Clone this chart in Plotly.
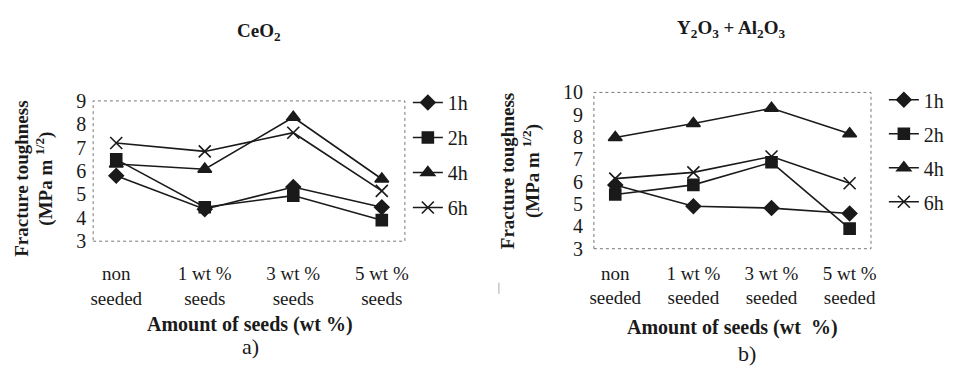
import plotly.graph_objects as go

# ---- data ----
categories_a = ["non<br>seeded", "1 wt %<br>seeds", "3 wt %<br>seeds", "5 wt %<br>seeds"]
categories_b = ["non<br>seeded", "1 wt %<br>seeded", "3 wt %<br>seeded", "5 wt %<br>seeded"]
series_names = ["1h", "2h", "4h", "6h"]

ceo2_1h = [5.8, 4.37, 5.32, 4.45]
ceo2_2h = [6.5, 4.45, 4.95, 3.9]
ceo2_4h = [6.3, 6.08, 8.3, 5.66]
ceo2_6h = [7.2, 6.84, 7.64, 5.15]

yal_1h = [5.85, 4.9, 4.82, 4.58]
yal_2h = [5.43, 5.86, 6.87, 3.9]
yal_4h = [7.98, 8.61, 9.29, 8.15]
yal_6h = [6.14, 6.42, 7.13, 5.93]

y_ticks_a = [3, 4, 5, 6, 7, 8, 9]
y_ticks_b = [3, 4, 5, 6, 7, 8, 9, 10]

W, H = 964, 376
def px(x):
    return x / W
def py(y):
    return 1 - y / H

SERIF = "Times New Roman"
INK = "#1a1a1a"
symbols = ["diamond", "square", "triangle-up", "x-thin"]
msizes = [11, 11, 12, 12]

fig = go.Figure()

data_a = [ceo2_1h, ceo2_2h, ceo2_4h, ceo2_6h]
data_b = [yal_1h, yal_2h, yal_4h, yal_6h]

for i, (name, vals) in enumerate(zip(series_names, data_a)):
    fig.add_trace(go.Scatter(
        x=categories_a, y=vals, name=name, mode="lines+markers",
        line=dict(color=INK, width=1.6),
        marker=dict(symbol=symbols[i], size=msizes[i], color=INK,
                    line=dict(color=INK, width=1.6)),
        xaxis="x", yaxis="y", legend="legend", legendgroup="a" + name,
    ))
for i, (name, vals) in enumerate(zip(series_names, data_b)):
    fig.add_trace(go.Scatter(
        x=categories_b, y=vals, name=name, mode="lines+markers",
        line=dict(color=INK, width=1.6),
        marker=dict(symbol=symbols[i], size=msizes[i], color=INK,
                    line=dict(color=INK, width=1.6)),
        xaxis="x2", yaxis="y2", legend="legend2", legendgroup="b" + name,
    ))

yaxis_common = dict(showgrid=False, zeroline=False, showline=False, ticks="",
                    tickfont=dict(family=SERIF, size=20, color=INK))
xaxis_common = dict(showgrid=False, zeroline=False, showline=False, ticks="",
                    tickfont=dict(family=SERIF, size=19, color=INK))

fig.update_layout(
    width=W, height=H, autosize=False,
    margin=dict(l=0, r=0, t=0, b=0),
    paper_bgcolor="white", plot_bgcolor="white",
    xaxis=dict(domain=[px(82), px(397)], anchor="y", type="category",
               ticklabelstandoff=19, **xaxis_common),
    yaxis=dict(domain=[py(236), py(87)], anchor="x", range=[3, 9],
               tickvals=y_ticks_a, ticklabelstandoff=6, **yaxis_common),
    xaxis2=dict(domain=[px(588), px(868)], anchor="y2", type="category",
                ticklabelstandoff=11, **xaxis_common),
    yaxis2=dict(domain=[py(244), py(78)], anchor="x2", range=[3, 10],
                tickvals=y_ticks_b, ticklabelstandoff=10, **yaxis_common),
    legend=dict(x=px(400), y=py(68), xanchor="left", yanchor="top",
                font=dict(family=SERIF, size=20, color=INK),
                tracegroupgap=6, bgcolor="rgba(0,0,0,0)", itemwidth=30),
    legend2=dict(x=px(881), y=py(65), xanchor="left", yanchor="top",
                 font=dict(family=SERIF, size=20, color=INK),
                 tracegroupgap=5, bgcolor="rgba(0,0,0,0)", itemwidth=30),
    showlegend=True,
)

# dotted plot borders
for xr, yr in (("x domain", "y domain"), ("x2 domain", "y2 domain")):
    fig.add_shape(type="rect", xref=xr, yref=yr, x0=0, x1=1, y0=0, y1=1,
                  line=dict(color="#777", width=1, dash="dot"), layer="below")

# small separator mark
fig.add_shape(type="line", xref="paper", yref="paper", x0=px(492), x1=px(492),
              y0=py(280), y1=py(292), line=dict(color="#aaa", width=1))

ann = []
def A(text, x, y, size, bold=False, angle=0):
    t = f"<b>{text}</b>" if bold else text
    ann.append(dict(text=t, x=px(x), y=py(y), xref="paper", yref="paper",
                    xanchor="center", yanchor="middle", showarrow=False,
                    textangle=angle, font=dict(family=SERIF, size=size, color=INK)))

A("CeO<sub>2</sub>", 250, 14, 19, bold=True)
A("Y<sub>2</sub>O<sub>3</sub> + Al<sub>2</sub>O<sub>3</sub>", 727, 11, 19, bold=True)
A("Fracture toughness<br>(MPa m <sup>1/2</sup>)", 22, 170, 19, bold=True, angle=-90)
A("Fracture toughness<br>(MPa m <sup>1/2</sup>)", 514, 162, 19, bold=True, angle=-90)
A("Amount of seeds (wt %)", 240, 324, 20, bold=True)
A("Amount of seeds (wt  %)", 728, 328, 20, bold=True)
A("a)", 241, 348, 22)
A("b)", 743, 355, 22)
fig.update_layout(annotations=ann)

fig.write_html("out.html")
